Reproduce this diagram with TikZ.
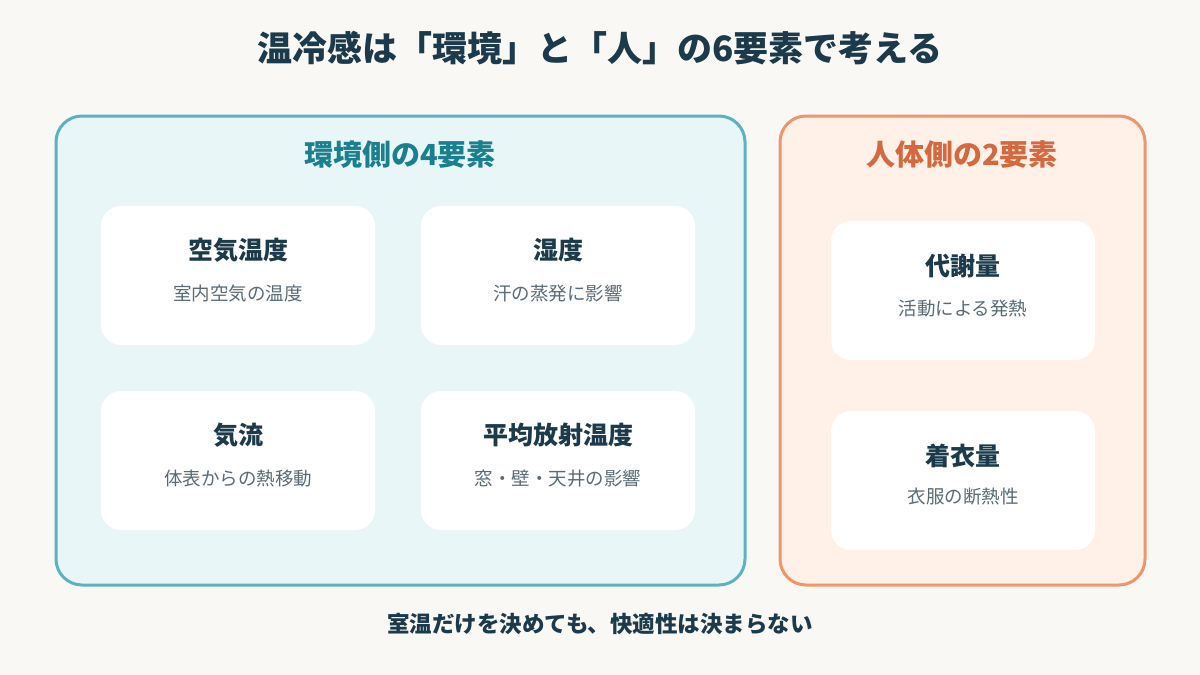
\documentclass[tikz,border=0pt]{standalone}
\usepackage{fontspec}
\setmainfont{Noto Sans CJK JP}
\newfontfamily\cjk{Noto Sans CJK JP}
\definecolor{bgc}{HTML}{FAF8F4}
\definecolor{navy}{HTML}{1B3A4B}
\definecolor{tealb}{HTML}{5BB3C1}
\definecolor{tealf}{HTML}{E8F6F7}
\definecolor{tealt}{HTML}{1A7F8E}
\definecolor{orb}{HTML}{F0956A}
\definecolor{orf}{HTML}{FFF0E8}
\definecolor{ort}{HTML}{D4693F}
\definecolor{subg}{HTML}{5A6B75}
\tikzset{
  panel/.style={rounded corners=26pt, line width=3pt, inner sep=0pt},
  card/.style={fill=white, rounded corners=20pt, draw=none, inner sep=0pt, minimum width=274pt, minimum height=139pt},
  rcard/.style={card, minimum width=264pt},
  ctitle/.style={text=navy, font=\cjk\bfseries\fontsize{25}{30}\selectfont, inner sep=0pt},
  csub/.style={text=subg, font=\cjk\fontsize{18.5}{22}\selectfont, inner sep=0pt},
  head/.style={font=\cjk\bfseries\fontsize{29}{34}\selectfont, inner sep=0pt},
}
\begin{document}
\begin{tikzpicture}[x=1pt,y=-1pt]
\useasboundingbox (0,0) rectangle (1200,675);
\fill[bgc] (0,0) rectangle (1200,675);
\node[text=navy, font=\cjk\bfseries\fontsize{35}{40}\selectfont, inner sep=0pt] (title) at (600,48) {温冷感は「環境」と「人」の6要素で考える};
% left panel
\draw[panel, draw=tealb, fill=tealf] (56,116) rectangle (745,585);
\node[head, text=tealt] (lhead) at (400,155) {環境側の4要素};
\node[card] (c1) at (238,275.5) {};
\node[card] (c2) at (558,275.5) {};
\node[card] (c3) at (238,460.5) {};
\node[card] (c4) at (558,460.5) {};
\node[ctitle] (t1) at (238,250) {空気温度};
\node[csub] (s1) at (238,294) {室内空気の温度};
\node[ctitle] (t2) at (558,250) {湿度};
\node[csub] (s2) at (558,294) {汗の蒸発に影響};
\node[ctitle] (t3) at (238,435) {気流};
\node[csub] (s3) at (238,479) {体表からの熱移動};
\node[ctitle] (t4) at (558,435) {平均放射温度};
\node[csub] (s4) at (558,479) {窓・壁・天井の影響};
% right panel
\draw[panel, draw=orb, fill=orf] (780,116) rectangle (1145,585);
\node[head, text=ort] (rhead) at (962,155) {人体側の2要素};
\node[rcard] (c5) at (963,290.5) {};
\node[rcard] (c6) at (963,480.5) {};
\node[ctitle] (t5) at (963,266) {代謝量};
\node[csub] (s5) at (963,309) {活動による発熱};
\node[ctitle] (t6) at (963,456) {着衣量};
\node[csub] (s6) at (963,497) {衣服の断熱性};
\node[text=navy, font=\cjk\bfseries\fontsize{22.5}{27}\selectfont, inner sep=0pt] (foot) at (600,624) {室温だけを決めても、快適性は決まらない};
\end{tikzpicture}
\end{document}
